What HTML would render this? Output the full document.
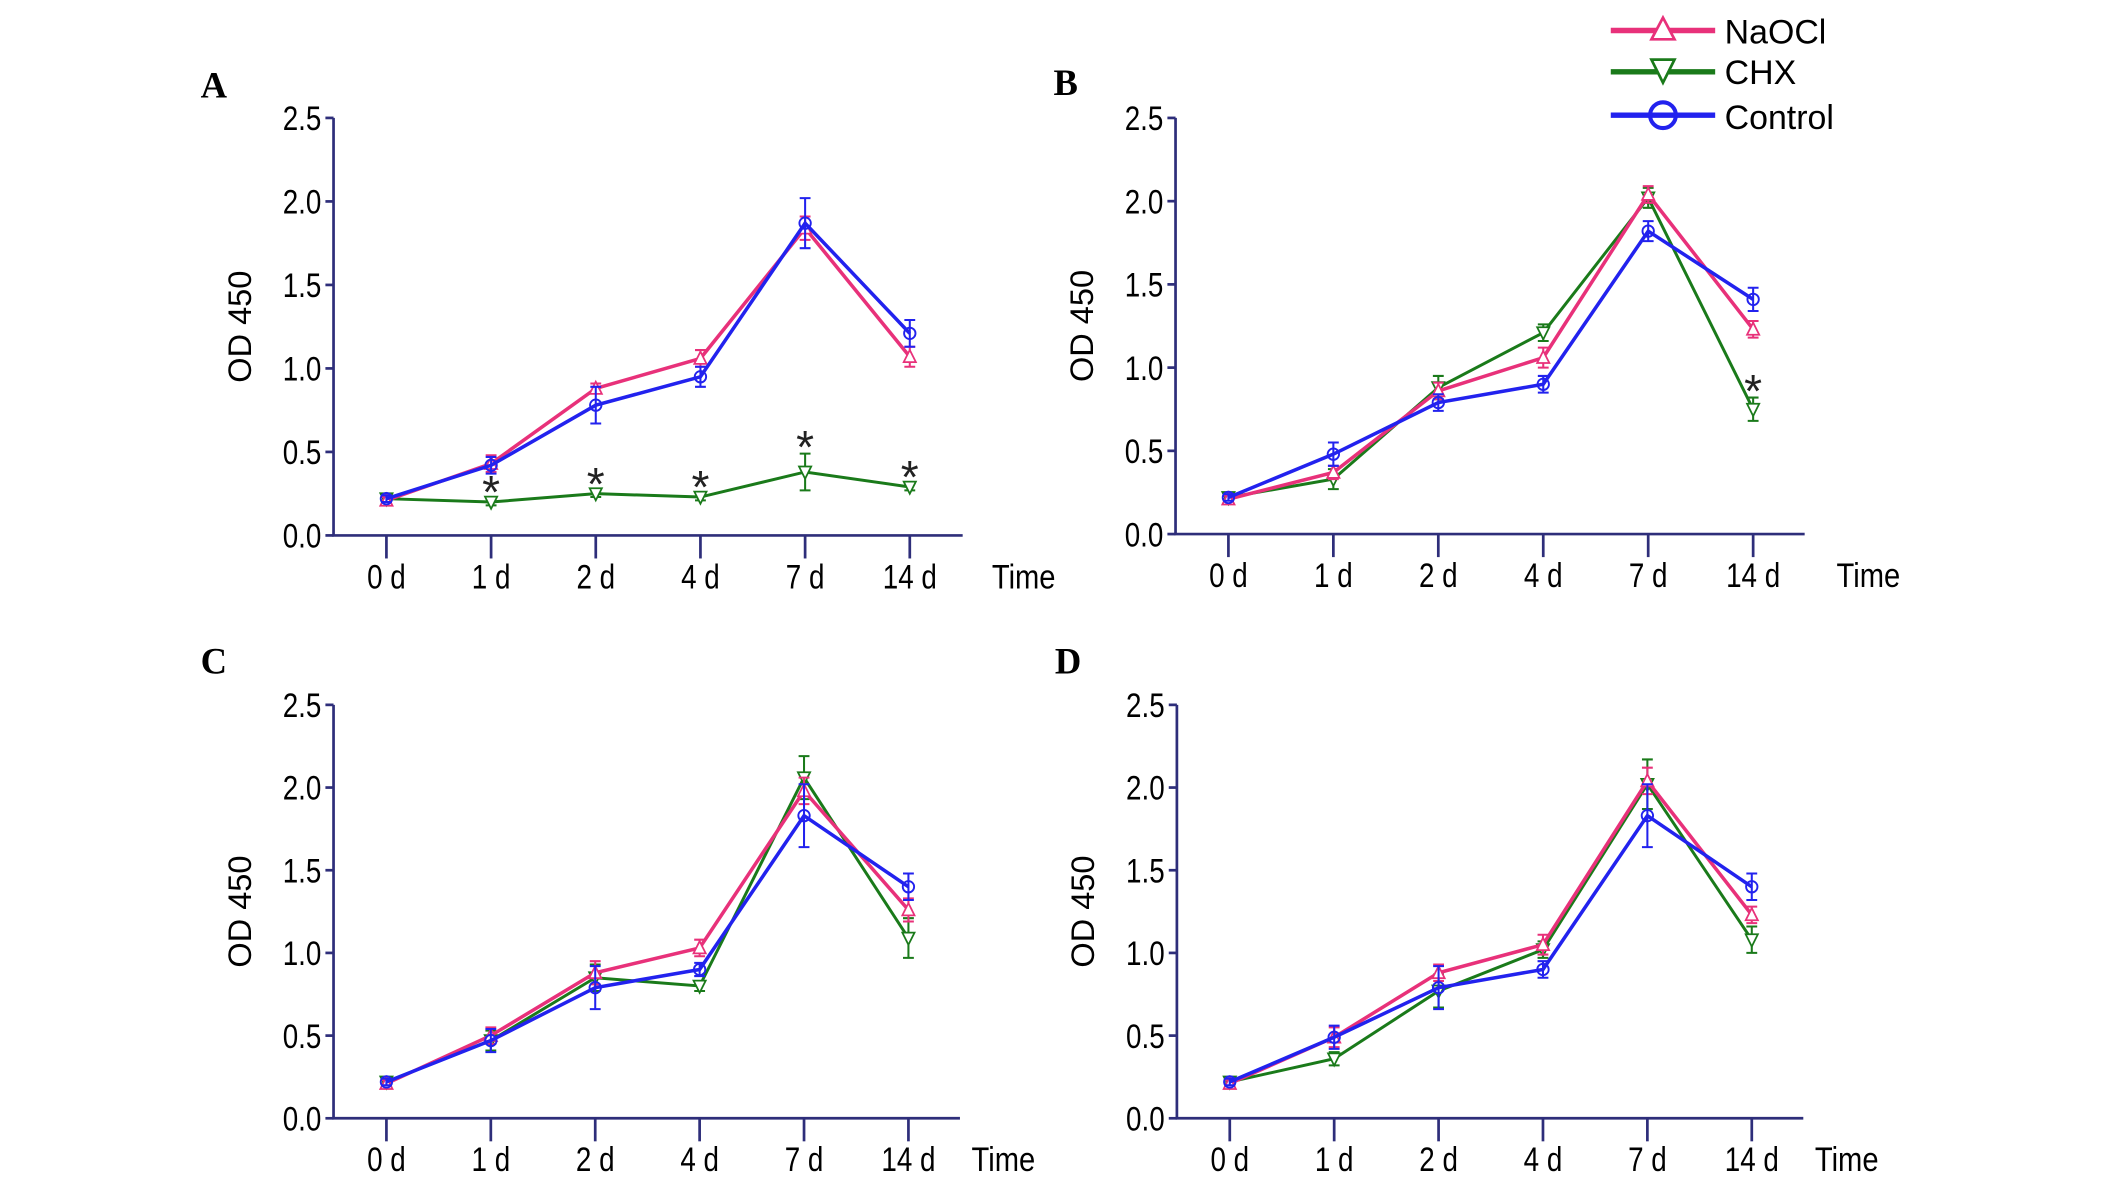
<!DOCTYPE html>
<html><head><meta charset="utf-8">
<style>
html,body{margin:0;padding:0;background:#fff;}
svg{display:block;}
</style></head>
<body>
<svg id="chart" width="2126" height="1182" viewBox="0 0 1568 872" preserveAspectRatio="none" xmlns="http://www.w3.org/2000/svg" font-family="Liberation Sans, sans-serif">
<g id="legend">
  <g>
    <line x1="1188" y1="22.5" x2="1265" y2="22.5" stroke="#e8317a" stroke-width="4"/>
    <polygon points="1226.5,13 1218,29 1235,29" fill="#fff" stroke="#e8317a" stroke-width="2"/>
    <text x="1272" y="32" font-size="25">NaOCl</text>
  </g>
  <g>
    <line x1="1188" y1="53" x2="1265" y2="53" stroke="#1a7a1a" stroke-width="4"/>
    <polygon points="1218,44 1235,44 1226.5,61" fill="#fff" stroke="#1a7a1a" stroke-width="2"/>
    <text x="1272" y="62" font-size="25">CHX</text>
  </g>
  <g>
    <line x1="1188" y1="85" x2="1265" y2="85" stroke="#2222ee" stroke-width="4"/>
    <circle cx="1226.5" cy="85" r="9.5" fill="none" stroke="#2222ee" stroke-width="3"/>
    <text x="1272" y="95" font-size="25">Control</text>
  </g>
</g>
</svg>
<script>
const categories = ["0 d","1 d","2 d","4 d","7 d","14 d"];
const yTicks = [0.0,0.5,1.0,1.5,2.0,2.5];
const seriesNames = ["NaOCl","CHX","Control"];
const A_naocl = [0.21,0.43,0.88,1.06,1.84,1.07];
const A_naocl_err = [0.02,0.05,0.03,0.05,0.07,0.06];
const A_chx = [0.22,0.20,0.25,0.23,0.38,0.29];
const A_chx_err = [0.01,0.02,0.02,0.02,0.11,0.02];
const A_control = [0.22,0.42,0.78,0.95,1.87,1.21];
const A_control_err = [0.02,0.05,0.11,0.06,0.15,0.08];
const A_stars = [0,1,1,1,1,1];
const B_naocl = [0.21,0.37,0.86,1.06,2.04,1.23];
const B_naocl_err = [0.02,0.04,0.05,0.06,0.05,0.05];
const B_chx = [0.22,0.33,0.88,1.21,2.02,0.75];
const B_chx_err = [0.01,0.06,0.07,0.05,0.06,0.07];
const B_control = [0.22,0.48,0.79,0.90,1.82,1.41];
const B_control_err = [0.02,0.07,0.05,0.05,0.06,0.07];
const B_stars = [0,0,0,0,0,1];
const C_naocl = [0.21,0.50,0.88,1.03,1.98,1.26];
const C_naocl_err = [0.02,0.05,0.07,0.05,0.08,0.07];
const C_chx = [0.22,0.47,0.85,0.80,2.06,1.09];
const C_chx_err = [0.01,0.06,0.08,0.03,0.13,0.12];
const C_control = [0.22,0.47,0.79,0.90,1.83,1.40];
const C_control_err = [0.02,0.07,0.13,0.04,0.19,0.08];
const C_stars = [0,0,0,0,0,0];
const D_naocl = [0.21,0.49,0.88,1.05,2.04,1.23];
const D_naocl_err = [0.02,0.06,0.05,0.06,0.08,0.05];
const D_chx = [0.22,0.36,0.77,1.02,2.02,1.08];
const D_chx_err = [0.01,0.04,0.10,0.05,0.15,0.08];
const D_control = [0.22,0.49,0.79,0.90,1.83,1.40];
const D_control_err = [0.02,0.07,0.13,0.05,0.19,0.08];
const D_stars = [0,0,0,0,0,0];

const NS="http://www.w3.org/2000/svg";
const svg=document.getElementById('chart');
function mk(tag,attrs,parent){const e=document.createElementNS(NS,tag);for(const k in attrs)e.setAttribute(k,attrs[k]);(parent||svg).appendChild(e);return e;}
const AX="#2e2e7a";
const colors=["#e8317a","#1a7a1a","#2222ee"];
const panels=[
 {id:"A",ax:246,y0:395,y1:87,x0:285,dx:77.2,xEnd:710,tl:425,time:755,lx:148,ly:72,data:[[A_naocl,A_naocl_err],[A_chx,A_chx_err],[A_control,A_control_err]],stars:A_stars,starSeries:1},
 {id:"B",ax:867,y0:394,y1:87,x0:906,dx:77.4,xEnd:1331,tl:424,time:1378,lx:777,ly:70,data:[[B_naocl,B_naocl_err],[B_chx,B_chx_err],[B_control,B_control_err]],stars:B_stars,starSeries:1},
 {id:"C",ax:246,y0:825,y1:520,x0:285,dx:77,xEnd:708,tl:855,time:740,lx:148,ly:497,data:[[C_naocl,C_naocl_err],[C_chx,C_chx_err],[C_control,C_control_err]],stars:C_stars,starSeries:1},
 {id:"D",ax:868,y0:825,y1:520,x0:907,dx:77,xEnd:1330,tl:855,time:1362,lx:778,ly:497,data:[[D_naocl,D_naocl_err],[D_chx,D_chx_err],[D_control,D_control_err]],stars:D_stars,starSeries:1}
];
panels.forEach(p=>{
  const g=mk('g',{});
  
  
  const ys=v=>p.y0-(v/2.5)*(p.y0-p.y1);
  const xs=i=>p.x0+i*p.dx;
  const lab=mk('text',{x:p.lx,y:p.ly,'font-size':27,'font-weight':'bold','font-family':'Liberation Serif, serif'},g);
  lab.textContent=p.id;
  
  
  const yax=mk('line',{x1:p.ax,y1:p.y1,x2:p.ax,y2:p.y0,stroke:AX,'stroke-width':2},g);
  
  
  const xax=mk('line',{x1:p.ax-1,y1:p.y0,x2:p.xEnd,y2:p.y0,stroke:AX,'stroke-width':2},g);
  
  
  yTicks.forEach(t=>{
    const y=ys(t);
    mk('line',{x1:p.ax-6,y1:y,x2:p.ax,y2:y,stroke:AX,'stroke-width':2},g);
    const tx=mk('text',{x:0,y:0,'font-size':25,'text-anchor':'end',transform:`translate(${p.ax-9},${y+9}) scale(0.82,1)`},g);
    tx.textContent=t.toFixed(1);
    
    
  });
  categories.forEach((c,i)=>{
    const x=xs(i);
    mk('line',{x1:x,y1:p.y0,x2:x,y2:p.y0+17,stroke:AX,'stroke-width':2},g);
    const tx=mk('text',{x:0,y:0,'font-size':25,'text-anchor':'middle',transform:`translate(${x},${p.tl+9}) scale(0.82,1)`},g);
    tx.textContent=c;
    
    
  });
  const tm=mk('text',{x:0,y:0,'font-size':25,'text-anchor':'middle',transform:`translate(${p.time},${p.tl+9}) scale(0.86,1)`},g);
  tm.textContent="Time";
  
  
  const cy=(p.y0+p.y1)/2;
  const yt=mk('text',{x:0,y:0,'font-size':24,'text-anchor':'middle',transform:`translate(${p.ax-61},${cy}) rotate(-90)`},g);
  yt.textContent="OD 450";
  
  
  const order=[1,0,2];
  order.forEach(si=>{
    const vals=p.data[si][0], errs=p.data[si][1], col=colors[si];
    const sg=mk('g',{},g);
    
    
    const pts=vals.map((v,i)=>xs(i)+','+ys(v)).join(' ');
    mk('polyline',{points:pts,fill:'none',stroke:col,'stroke-width':si==1?2.2:2.6},sg);
    vals.forEach((v,i)=>{
      const x=xs(i),y=ys(v),e=errs[i];
      const eb=mk('path',{d:`M${x},${ys(v-e)}V${ys(v+e)}M${x-4},${ys(v+e)}H${x+4}M${x-4},${ys(v-e)}H${x+4}`,stroke:col,'stroke-width':1.5,fill:'none'},sg);
      
      
      let m;
      if(si==0) m=mk('polygon',{points:`${x},${y-5} ${x-4.5},${y+4} ${x+4.5},${y+4}`,fill:'#fff',stroke:col,'stroke-width':1.3},sg);
      else if(si==1) m=mk('polygon',{points:`${x-4.5},${y-4} ${x+4.5},${y-4} ${x},${y+5}`,fill:'#fff',stroke:col,'stroke-width':1.3},sg);
      else m=mk('circle',{cx:x,cy:y,r:4.2,fill:'none',stroke:col,'stroke-width':1.4},sg);
      
      
    });
  });
  p.stars.forEach((s,i)=>{
    if(!s) return;
    const v=p.data[p.starSeries][0][i], e=p.data[p.starSeries][1][i];
    const top=ys(v+e);
    const st=mk('text',{x:xs(i),y:top+7,'font-size':34,'text-anchor':'middle',fill:'#222'},g);
    st.textContent="*";
    
    
  });
});
</script>
</body></html>
